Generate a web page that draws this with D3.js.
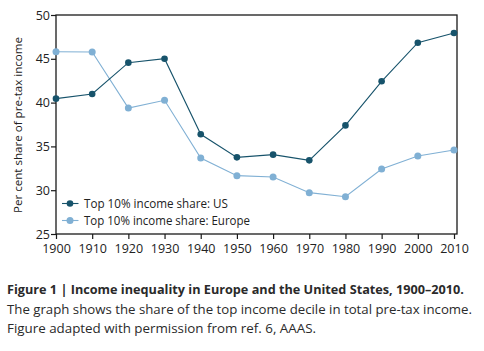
<!DOCTYPE html>
<html>
<head>
<meta charset="utf-8">
<script src="https://cdn.jsdelivr.net/npm/d3@7"></script>
<style>
  body { margin: 0; background: #fff; }
  svg { display: block; }
</style>
</head>
<body>
<div id="chart"></div>
<script>
// data
const years = [1900, 1910, 1920, 1930, 1940, 1950, 1960, 1970, 1980, 1990, 2000, 2010];
const usShare = [40.45, 40.98, 44.56, 45.01, 36.38, 33.75, 34.06, 33.41, 37.4, 42.43, 46.84, 47.95];
const europeShare = [45.81, 45.78, 39.38, 40.26, 33.68, 31.66, 31.51, 29.72, 29.26, 32.42, 33.9, 34.59];
const seriesNames = ["Top 10% income share: US", "Top 10% income share: Europe"];
const yTicks = [25, 30, 35, 40, 45, 50];
const captionLines = [
    "Figure 1 | Income inequality in Europe and the United States, 1900\u20132010.",
    "The graph shows the share of the top income decile in total pre-tax income.",
    "Figure adapted with permission from ref. 6, AAAS."
];

const W = 484, H = 351;
const font = "'Open Sans', 'DejaVu Sans', sans-serif";
const colors = ["#17536b", "#80b0d4"];

const svg = d3.select("#chart").append("svg")
    .attr("width", W)
    .attr("height", H);

const box = {left: 56, right: 457, top: 15, bottom: 234};

const x = d3.scaleLinear()
    .domain([1900, 2010])
    .range([56, 454]);

const y = d3.scaleLinear()
    .domain([25, 50])
    .range([box.bottom, box.top]);

// frame
svg.append("rect")
    .attr("x", box.left)
    .attr("y", box.top)
    .attr("width", box.right - box.left)
    .attr("height", box.bottom - box.top)
    .attr("fill", "none")
    .attr("stroke", "#1a1a1a")
    .attr("stroke-width", 1.3);

// x axis
const xAxis = svg.append("g")
    .attr("transform", `translate(0,${box.bottom})`)
    .call(d3.axisBottom(x).tickValues(years).tickFormat(d3.format("d")).tickSize(5).tickSizeOuter(0));
xAxis.select(".domain").remove();
xAxis.selectAll("line").attr("stroke", "#1a1a1a").attr("stroke-width", 1.2);
xAxis.selectAll("text")
    .attr("font-family", font)
    .attr("font-size", 12.5)
    .attr("fill", "#222")
    .attr("y", 10.5);

// y axis
const yAxis = svg.append("g")
    .attr("transform", `translate(${box.left},0)`)
    .call(d3.axisLeft(y).tickValues(yTicks).tickSize(5).tickSizeOuter(0));
yAxis.select(".domain").remove();
yAxis.selectAll("line").attr("stroke", "#1a1a1a").attr("stroke-width", 1.2);
yAxis.selectAll("text")
    .attr("font-family", font)
    .attr("font-size", 12.5)
    .attr("fill", "#222")
    .attr("x", -6);

// y label
svg.append("text")
    .attr("transform", "translate(22,125) rotate(-90)")
    .attr("text-anchor", "middle")
    .attr("font-family", font)
    .attr("font-size", 11.5)
    .attr("fill", "#222")
    .attr("textLength", 176)
    .attr("lengthAdjust", "spacingAndGlyphs")
    .text("Per cent share of pre-tax income");

// lines + dots
const line = d3.line()
    .x((d, i) => x(years[i]))
    .y(d => y(d));

[europeShare, usShare].forEach((vals, k) => {
    const c = k === 0 ? colors[1] : colors[0];
    svg.append("path")
        .datum(vals)
        .attr("d", line)
        .attr("fill", "none")
        .attr("stroke", c)
        .attr("stroke-width", 1.1);
    svg.selectAll(null)
        .data(vals)
        .join("circle")
        .attr("cx", (d, i) => x(years[i]))
        .attr("cy", d => y(d))
        .attr("r", k === 0 ? 3.5 : 3.3)
        .attr("fill", c);
});

// legend
const legend = svg.append("g");
seriesNames.forEach((name, i) => {
    const ly = 203.5 + i * 17;
    legend.append("line")
        .attr("x1", 62).attr("x2", 78.5)
        .attr("y1", ly).attr("y2", ly)
        .attr("stroke", colors[i])
        .attr("stroke-width", 1.1);
    legend.append("circle")
        .attr("cx", 70).attr("cy", ly)
        .attr("r", i === 0 ? 3.3 : 3.5)
        .attr("fill", colors[i]);
    legend.append("text")
        .attr("x", 84)
        .attr("y", ly)
        .attr("dy", "0.35em")
        .attr("font-family", font)
        .attr("font-size", 12)
        .attr("fill", "#222")
        .attr("textLength", i === 0 ? 144 : 166)
        .attr("lengthAdjust", "spacingAndGlyphs")
        .text(name);
});

// caption
const capW = [457, 465, 309];
const capY = [294, 314, 333];
captionLines.forEach((t, i) => {
    svg.append("text")
        .attr("x", 7)
        .attr("y", capY[i])
        .attr("font-family", font)
        .attr("font-size", 13)
        .attr("font-weight", i === 0 ? "bold" : "normal")
        .attr("fill", "#2a2a2a")
        .attr("textLength", capW[i])
        .attr("lengthAdjust", "spacingAndGlyphs")
        .text(t);
});
</script>
</body>
</html>
